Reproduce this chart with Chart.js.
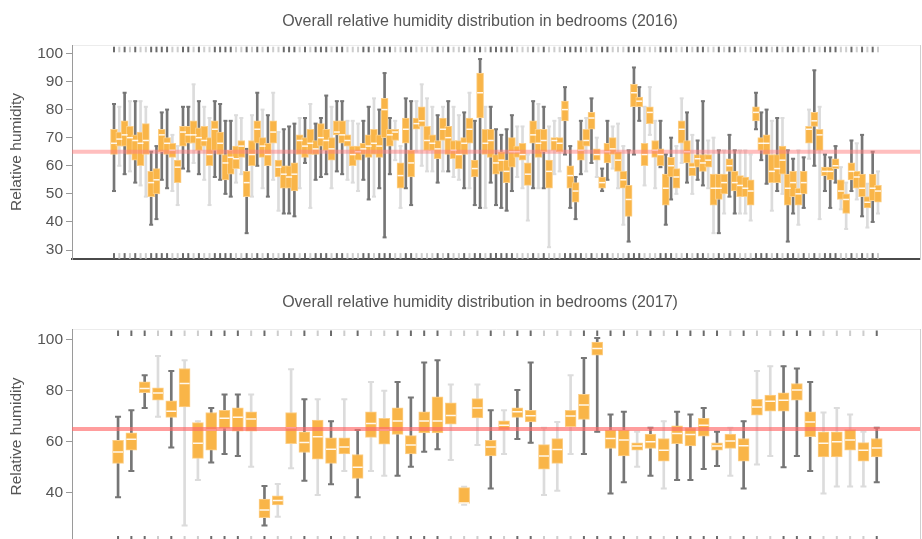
<!DOCTYPE html>
<html>
<head>
<meta charset="utf-8">
<script src="https://cdn.jsdelivr.net/npm/chart.js@4.4.0/dist/chart.umd.min.js"></script>
<style>
  html, body { margin: 0; padding: 0; background: #fff; overflow: hidden; width: 922px; height: 539px; }
  canvas { position: absolute; left: 0; }
  #c2016 { top: 0; }
  #c2017 { top: 282px; }
</style>
</head>
<body>
<canvas id="c2016" width="960" height="265"></canvas>
<canvas id="c2017" width="960" height="268"></canvas>
<script>
// 2016: one box per bedroom (min, q1, median, q3, max)
const min2016 = [51,60,57,58,54,53,49,39,41,55, 52,51,46,59,58,61,57,55,46,56, 55,50,49,54,57,36,49,60,52,49,
  55,44,43,43,42,52,61,45,55,56, 57,52,58,57,55,54,51,55,48,49, 52,34.5,57,62,45,52,46,65,60,58,
  58,54,58,58,56,55,52,52,46,45, 45,54,46,45,44,51,56,52,40.5,52, 52,52,31,57,58,64,45,41,57,58,
  61,56,51,55,59,52,39,33,64,76, 53,71,52,59.5,39,48,50,61,54,50, 55,53,52,36,36,43,49,43,43,43,
  40.5,73,62,53.6,44,51,50,33,43,39, 45,62.5,60,41,51,45,54,44.5,37.5,51, 48,42,38,40,43];
const q1_2016 = [64,67,67,64,62,60,64,49,50,65, 64,63,54,67,68,68,65.5,67,60,65.5, 64,55,57,59,63,49,60,68,63,60,
  68,56,52,52,51,64,63,64,64,67, 65.5,62,71,68,67,60,62,64,63,64, 63,70,67,69,52,68,56,73,74,65.5,
  65.5,62.5,69,64,62.5,59,64,68,56,77, 64,63,57,58,54,59.5,63,62,53,68, 63,65,52,65.5,65,76,52,47,62,67,
  73,62,52,61,64,58,52,42,81,81, 60,75,63,60,46,56,52,68,61,56.5, 59.5,58,59.5,46,48,50,58,51,49,49,
  46,76,65.5,64,54,54,57,46,49,46, 50,68,74,65.5,56.5,55,59,48,43,55, 52,49,45,47.6,47];
const median2016 = [68,69.5,71,70,69,68,69,54,55,71, 68,65.5,59.5,72,71,71,70,69,64,73, 68,61,63,62.5,67,54,64,73,67,64,
  72,59.5,57,56,57,69,67,68,66,70, 69,66,72,71,69,64,65,66,67,68, 67,80,71,72,56.5,73,61,75,76,69,
  68,66,73,70,65.5,64,68,73,59,86, 68,69,61,62,58,65,65,64,57,71, 68,69,58,69,68,80,56.5,51,65.5,69,
  77,64,54,65,66,62,55,48,86,83, 64,79,65.5,64,52,60,56,73,65,59.5, 62.5,61,62,52,52,54,60,54,53,52,
  51,79,68,68,58,59,62,52,54,50, 54,73,76,71,58,58,60,51,48,58, 56,52,47,52,51];
const q3_2016 = [73,72,76,74,71,72,75,58,59,73, 70,68,62,74,74,76,73.5,74,70,76, 72,64,65.5,67,69,58,69,76,70,68,
  76,62,60,60,61,71,70,73,69,75, 73,70,76,76,71,67,67,68,71,73, 71,84,73,73,61,77,65.5,77,81,74,
  71,69,77,74,69,69,70,77,62,93, 73,73,64,65,62,70,67,68,61,76, 73,73,62,70,70,83,60,54,69,73,
  79,66,56,68,70,65,58,53,89,84.5, 68,81,69,66,57,63,59,76,69,61, 64,64,64,57,57,57,62.5,58,56.5,56,
  55,81,70,71,64,64,67,57,58,52, 58,74,79,73,59.5,59.5,62.5,55,50,61, 58,57,49,57,53];
const max2016 = [82,81,86,83,83,83,81,65,67,79, 80,71,67,81,81,89,83,81,77,83, 82,76,76,78,77,66,78,86,80,78,
  86,72,73,74,75,77,77,82,75,77, 85,81,83,83,76,76,75,76,81,84, 80,93,77,76,67,84,83,83,89,84,
  81,78,81,83,81,78,79,86,76,98, 81,81,73,71,73,78,74,74,64,83, 82,81,74,76,77,88,67,56,76,77,
  84,70,59,76,74,75,67,65.5,95,88, 81,88,76,76,64,70,67,84,79,71, 69,83,69,70,65.5,65.5,71,65.5,65.5,65.5,
  64,86,79,80,76,77,77,65.5,62.5,65.5, 63,80,94,81,64,63,67,59.5,54,69, 68,71,53.6,65,58];

// 2017
const min2017 = [38.2,48.5,73.3,69.8,57.8,27.1,45.0,51.9,55.2,54.4, 50.2,27.1,30.6,49.6,44.7,39.1,43.3,48.5,38.2,48.5,
  46.7,46.7,50.2,56.1,57.1,52.8,35.3,58.7,41.7,55.2, 61.1,59.6,39.1,40.8,55.2,55.2,63.9,39.7,44.1,50.2,
  46.7,41.7,45.0,45.0,49.3,50.5,46.7,41.7,51.1,54.4, 50.0,54.4,48.5,39.7,42.4,42.4,42.4,44.1];
const q1_2017 = [51.5,56.7,79.3,76.3,69.6,73.7,53.5,56.7,65.2,64.2, 64.2,30.2,35.2,59.3,55.8,53.2,51.5,55.2,45.6,61.7,
  59.1,62.9,55.2,63.5,63.5,66.9,35.8,69.4,54.4,64.6, 69.6,67.8,49.2,51.5,65.9,68.8,94.0,57.4,54.4,56.7,
  57.4,52.4,59.3,58.4,62.2,56.7,57.4,52.4,70.5,72.0, 72.0,76.3,62.0,54.1,54.1,56.7,52.4,54.1];
const median2017 = [56.0,61.0,80.9,79.2,72.0,82.9,59.4,64.6,69.2,69.6, 68.9,33.2,36.9,65.5,59.7,62.0,57.1,58.0,50.0,67.2,
  64.6,68.2,58.7,68.2,68.2,70.3,36.0,73.3,58.0,66.5, 71.8,70.2,54.4,57.0,70.1,74.4,96.6,61.3,60.7,58.3,
  60.0,56.7,63.3,62.9,66.5,58.3,60.3,58.4,73.7,75.9, 76.3,80.3,67.8,59.4,60.0,60.7,56.7,57.6];
const q3_2017 = [60.6,63.5,83.5,81.2,76.1,88.8,67.5,71.5,72.4,73.3, 71.8,37.5,38.8,71.5,63.9,68.5,61.6,61.6,55.0,71.8,
  69.2,73.3,62.4,71.8,77.7,75.3,42.0,77.0,60.6,68.2, 73.3,72.4,58.9,61.3,72.4,78.6,99.2,64.6,64.6,59.6,
  63.0,61.3,66.3,65.5,69.2,59.6,63.0,61.3,76.7,78.3, 79.2,82.9,71.8,63.9,63.9,64.8,59.7,61.3];
const max2017 = [69.8,72.4,86.1,93.7,87.8,92.0,68.1,73.3,78.6,78.6, 78.6,42.6,43.4,88.5,76.7,76.7,68.1,76.7,64.6,83.5,
  80.0,83.5,77.4,91.1,92.0,82.5,42.3,82.5,72.4,72.4, 80.3,91.1,65.5,67.8,86.1,92.9,100.8,70.7,71.8,63.9,
  65.5,68.1,71.8,70.7,73.3,63.9,65.5,68.1,87.8,89.7, 89.7,88.8,83.5,71.5,73.3,70.7,63.9,65.5];

const TARGET = 65;
const yTicks2016 = { min: 26.8, max: 103, step: 10 };
const yTicks2017 = { min: 20.05, max: 104.1, step: 20 };

// whisker shade per room, D = dark, L = light
const shade2016 = 'DLDLDLLDDD' + 'DLLDDLDLLD' + 'DDDLLDLDLD' + 'LLDDDLDLDD' + 'DLDDLLLDDL' + 'DDDLLDDLLL' +
  'LDLDLLDLDD' + 'LDDDDDLLLD' + 'LDLLLDDDDL' + 'DLDDLLLDDD' + 'LLLDDDLLDL' + 'DDLLDLDDLL' +
  'LDDDLDLDDL' + 'DLDLDDDLLD' + 'LDLDL';
const shade2017 = 'DDDLDLLDDD' + 'LDLLDLDLDL' + 'LDDDDLLLDL' + 'DDLLLDDDDL' + 'DLDDDDLDLL' + 'DDDLLLLD';

const FONT = '"Liberation Sans", Arial, sans-serif';
const ORANGE = '#f9b548';
const ORANGE_EDGE = '#fccf88';
const WHISKER = { D: '#767676', L: '#dcdcdc' };
const RUG = { D: '#6b6b6b', L: '#cdcdcd' };

function boxPanel(id, title, stats, shades, yt, o) {
  const [mins, q1s, meds, q3s, maxs] = stats;
  const idx = mins.map((_, i) => i);
  const tone = shades.split('').map(c => WHISKER[c]);
  const rugTone = shades.split('').map(c => RUG[c]);
  return new Chart(document.getElementById(id), {
    type: 'bar',
    data: {
      datasets: [
        { type: 'line', data: [{ x: o.xMin, y: TARGET }, { x: o.xMax, y: TARGET }],
          borderColor: o.lineColor, borderWidth: 4, pointRadius: 0, order: 0 },
        { type: 'scatter', data: idx.map(i => ({ x: i, y: meds[i] })),
          pointStyle: 'line', pointRadius: o.box / 2 - 0.5, pointBorderColor: 'rgba(255,255,255,0.9)',
          pointBorderWidth: 1.5, order: 1 },
        { type: 'bar', data: idx.map(i => ({ x: i, y: [q1s[i], q3s[i]] })),
          backgroundColor: ORANGE, borderColor: ORANGE_EDGE, borderWidth: 1, borderSkipped: false,
          barThickness: o.box, grouped: false, order: 2 },
        { type: 'scatter', data: idx.map(i => ({ x: i, y: mins[i] })).concat(idx.map(i => ({ x: i, y: maxs[i] }))),
          pointStyle: 'line', pointRadius: o.cap, pointBorderColor: tone.concat(tone),
          pointBorderWidth: o.whisker, order: 3 },
        { type: 'bar', data: idx.map(i => ({ x: i, y: [mins[i], maxs[i]] })),
          backgroundColor: tone, barThickness: o.whisker, grouped: false, order: 4 },
        { type: 'scatter', data: idx.map(i => ({ x: i, y: o.rugTop })).concat(idx.map(i => ({ x: i, y: o.rugBottom }))),
          pointStyle: 'line', pointRotation: 90, pointRadius: 2.8, pointBorderColor: rugTone.concat(rugTone),
          pointBorderWidth: o.whisker, order: 5 }
      ]
    },
    options: {
      responsive: false,
      animation: false,
      events: [],
      layout: { padding: { left: 0, right: 0, top: 0, bottom: o.padBottom } },
      plugins: {
        legend: { display: false },
        tooltip: { enabled: false },
        title: {
          display: true, text: title, color: '#555',
          font: { family: FONT, size: 16, weight: 'normal' },
          padding: { top: o.titleTop, bottom: o.titleGap }
        }
      },
      scales: {
        x: {
          type: 'linear', min: o.xMin, max: o.xMax, offset: false,
          ticks: { display: false }, grid: { display: false },
          border: { color: '#4a4a4a', width: 2 },
          afterFit: s => { s.height = 0; }
        },
        x2: {
          type: 'linear', position: 'top',
          ticks: { display: false }, grid: { display: false },
          border: { color: '#ececec', width: 1 },
          afterFit: s => { s.height = 0; }
        },
        y: {
          min: yt.min, max: yt.max,
          ticks: { stepSize: yt.step, includeBounds: false, color: '#555', padding: 3,
            font: { family: FONT, size: 15.5 } },
          grid: { drawOnChartArea: false, tickLength: 6, color: '#999' },
          border: { color: '#9a9a9a', dash: o.dash },
          title: { display: true, text: 'Relative humidity', color: '#555',
            font: { family: FONT, size: 15.5 }, padding: { top: 7, bottom: 0 } },
          afterFit: s => { s.width = 72; s.paddingTop = 0; s.paddingBottom = 0; }
        },
        y2: {
          type: 'linear', position: 'right',
          ticks: { display: false }, grid: { display: false },
          border: { color: '#cfcfcf', dash: [1, 3] },
          afterFit: s => { s.width = 40; }
        }
      }
    }
  });
}

boxPanel('c2016', 'Overall relative humidity distribution in bedrooms (2016)',
  [min2016, q1_2016, median2016, q3_2016, max2016], shade2016, yTicks2016,
  { xMin: -7.92, xMax: 151.92, box: 7, whisker: 2, cap: 2, rugTop: 101.4, rugBottom: 27.9,
    lineColor: 'rgba(255,125,125,0.5)', dash: [1.5, 5.5], titleTop: 11.9, titleGap: 13.9, padBottom: 3.7 });

boxPanel('c2017', 'Overall relative humidity distribution in bedrooms (2017)',
  [min2017, q1_2017, median2017, q3_2017, max2017], shade2017, yTicks2017,
  { xMin: -3.46, xMax: 60.25, box: 11, whisker: 2, cap: 3, rugTop: 102.6, rugBottom: 21.9,
    lineColor: 'rgba(255,105,105,0.65)', dash: [1.5, 11.25], titleTop: 11.4, titleGap: 16.9, padBottom: 4 });
</script>
</body>
</html>
